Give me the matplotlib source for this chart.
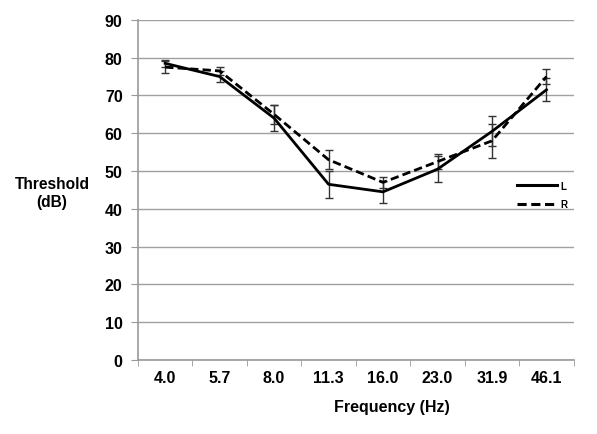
import numpy as np
import matplotlib
matplotlib.use("Agg")
import matplotlib.pyplot as plt
from matplotlib.ticker import FixedLocator
from matplotlib.lines import Line2D

plt.rcParams['font.family'] = ['Liberation Sans', 'DejaVu Sans']

freqs = ["4.0", "5.7", "8.0", "11.3", "16.0", "23.0", "31.9", "46.1"]
left_vals = [78.5, 75.0, 64.0, 46.5, 44.5, 50.5, 60.5, 71.5]
left_err = [1.0, 1.5, 3.5, 3.5, 3.0, 3.5, 4.0, 3.0]
right_vals = [77.5, 76.5, 65.0, 53.0, 47.0, 52.5, 58.0, 75.0]
right_err = [1.5, 1.0, 2.5, 2.5, 1.5, 2.0, 4.5, 2.0]
yticks = [0, 10, 20, 30, 40, 50, 60, 70, 80, 90]

fig = plt.figure(figsize=(5.97, 4.35), dpi=100)
ax = fig.add_axes([0.231, 0.170, 0.730, 0.782])
x = np.arange(len(freqs))

dash = (0, (3, 1.5))
ax.errorbar(x, left_vals, yerr=left_err, color='black', lw=2.0, ls='-',
            ecolor='#333333', elinewidth=1.0, capsize=3, zorder=3)
ax.errorbar(x, right_vals, yerr=right_err, color='black', lw=2.0, ls=dash,
            ecolor='#333333', elinewidth=1.0, capsize=3, zorder=3)

ax.set_xlim(-0.5, len(freqs) - 0.5)
ax.set_ylim(0, 90)
ax.set_yticks(yticks)
ax.set_xticks(x)
ax.set_xticklabels(freqs, fontsize=11.5, fontweight='bold')
ax.xaxis.set_minor_locator(FixedLocator(np.arange(-0.5, len(freqs) + 0.5, 1.0)))
ax.tick_params(axis='x', which='major', length=0, pad=7)
ax.tick_params(axis='x', which='minor', length=4, color='#999999', direction='out')
ax.tick_params(axis='y', length=5, color='#999999', labelsize=11.5, pad=6)
for lbl in ax.get_yticklabels():
    lbl.set_fontweight('bold')

ax.grid(axis='y', color='#a0a0a0', lw=1.0, zorder=0)
for s in ['top', 'right']:
    ax.spines[s].set_visible(False)
for s in ['left', 'bottom']:
    ax.spines[s].set_color('#999999')
    ax.spines[s].set_linewidth(1.2)

fig.text(0.657, 0.064, 'Frequency (Hz)', ha='center', va='center',
         fontsize=11.5, fontweight='bold')
fig.text(0.087, 0.555, 'Threshold\n(dB)', ha='center', va='center',
         fontsize=11.2, fontweight='bold', linespacing=1.2)

handles = [Line2D([], [], color='black', lw=2.2, ls='-'),
           Line2D([], [], color='black', lw=2.2, ls=dash)]
ax.legend(handles, ['L', 'R'], loc='center left', bbox_to_anchor=(0.860, 0.485),
          frameon=False, prop={'size': 7, 'weight': 'bold'}, handlelength=4.2,
          handletextpad=0.3, labelspacing=0.9, borderaxespad=0)

fig.savefig('out.png', dpi=100)
